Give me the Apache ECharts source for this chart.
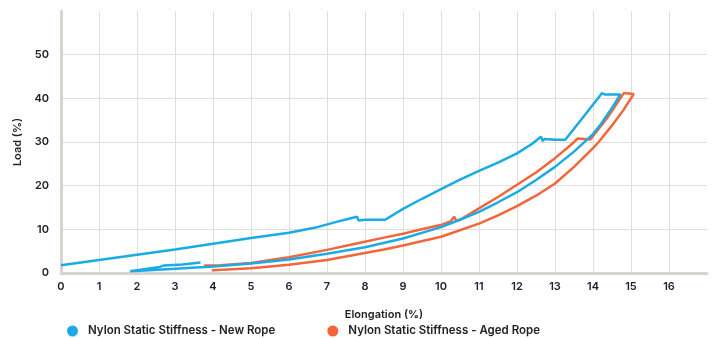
<!DOCTYPE html>
<html>
<head>
<meta charset="utf-8">
<script src="https://cdn.jsdelivr.net/npm/echarts@6/dist/echarts.min.js"></script>
<style>
  html, body { margin: 0; padding: 0; background: #ffffff; }
  #chart { width: 715px; height: 338px; }
</style>
</head>
<body>
<div id="chart"></div>
<script>
// Series names
var seriesNames = ['Nylon Static Stiffness - New Rope', 'Nylon Static Stiffness - Aged Rope'];

// New rope: elongation (%) and load (%)
var newRopeElong = [0, 1, 2, 3, 4, 5, 6, 6.7, 7.2, 7.6, 7.79, 7.83, 7.86, 8.0, 8.3, 8.53,
  9, 9.5, 10, 10.5, 11, 11.5, 12, 12.4, 12.63, 12.68, 12.72, 13.0, 13.27, 13.75, 14.24, 14.3, 14.72,
  14.5, 14.2, 14.0, 13.5, 13.0, 12.5, 12.0, 11.5, 11.0, 10.5, 10.0, 9.0, 8.0, 7.0, 6.0, 5.0, 4.0, 3.0, 2.2, 1.82,
  2.6, 2.7, 2.74, 3.2, 3.67];
var newRopeLoad = [1.8, 3.0, 4.2, 5.4, 6.7, 8.0, 9.2, 10.4, 11.6, 12.5, 12.9, 12.0, 12.4, 12.2, 12.2, 12.2,
  14.7, 17.0, 19.2, 21.4, 23.4, 25.3, 27.4, 29.6, 31.2, 30.2, 30.7, 30.5, 30.5, 35.8, 41.2, 40.9, 40.9,
  37.8, 34.0, 31.8, 27.8, 24.3, 21.3, 18.5, 16.2, 14.0, 12.2, 10.5, 7.9, 5.9, 4.4, 3.1, 2.2, 1.5, 1.0, 0.6, 0.4,
  1.4, 1.7, 1.45, 1.95, 2.4];

// Aged rope: elongation (%) and load (%)
var agedRopeElong = [3.77, 4.2, 5, 6, 7, 7.9, 8.5, 9, 9.63, 9.68, 10.0, 10.25, 10.35, 10.4, 10.5,
  11, 11.5, 12, 12.5, 13, 13.4, 13.6, 13.65, 13.93, 14.4, 14.81, 15.07,
  14.8, 14.5, 14.15, 14.0, 13.5, 13.0, 12.5, 12.0, 11.5, 11.0, 10.0, 9.0, 8.5, 8.0, 7.0, 6.0, 5.0, 4.0, 3.97];
var agedRopeLoad = [1.7, 1.8, 2.3, 3.6, 5.3, 7.0, 8.1, 9.0, 10.3, 10.0, 11.0, 11.8, 12.9, 12.0, 12.2,
  14.8, 17.4, 20.2, 23.0, 26.3, 29.2, 30.8, 30.4, 30.6, 35.8, 41.2, 41.0,
  37.3, 33.8, 30.0, 28.6, 24.3, 20.5, 17.7, 15.3, 13.2, 11.3, 8.3, 6.3, 5.4, 4.6, 3.0, 1.9, 1.1, 0.65, 0.6];

// Axis ticks
var xTickMax = 16;
var yTickMax = 50;

function pairs(xs, ys) {
  var out = [];
  for (var i = 0; i < xs.length; i++) out.push([xs[i], ys[i]]);
  return out;
}

var textColor = '#222222';
var fontFamily = 'Inter, "Noto Sans", sans-serif';

var chart = echarts.init(document.getElementById('chart'), null, { renderer: 'canvas' });
chart.setOption({
  animation: false,
  backgroundColor: '#ffffff',
  color: ['#1AABE6', '#F26639'],
  textStyle: { fontFamily: fontFamily },
  grid: { left: 61, right: 8, top: 11, bottom: 65, containLabel: false },
  legend: {
    left: 62,
    top: 320,
    itemGap: 52,
    itemWidth: 11,
    itemHeight: 12,
    icon: 'circle',
    textStyle: { color: textColor, fontSize: 11.5, fontWeight: 600, fontFamily: fontFamily, padding: [0, 0, 0, 5] },
    data: seriesNames
  },
  xAxis: {
    type: 'value',
    min: 0,
    max: 17,
    interval: 1,
    name: 'Elongation (%)',
    nameLocation: 'middle',
    nameGap: 36,
    nameTextStyle: { color: textColor, fontSize: 11, fontWeight: 600 },
    axisLine: { show: true, lineStyle: { color: '#D9D4CE', width: 3 } },
    axisTick: { show: false },
    axisLabel: {
      color: textColor, fontSize: 11, fontWeight: 600, margin: 8,
      formatter: function (v) { return v <= xTickMax ? String(v) : ''; }
    },
    splitLine: { show: true, showMinLine: false, showMaxLine: false, lineStyle: { color: '#E3DED9', width: 1 } }
  },
  yAxis: {
    type: 'value',
    min: 0,
    max: 60,
    interval: 10,
    name: 'Load (%)',
    nameLocation: 'middle',
    nameGap: 36,
    nameRotate: 90,
    nameTextStyle: { color: textColor, fontSize: 11, fontWeight: 600 },
    axisLine: { show: true, lineStyle: { color: '#D9D4CE', width: 3 } },
    axisTick: { show: false },
    axisLabel: {
      color: textColor, fontSize: 11, fontWeight: 600, margin: 12,
      formatter: function (v) { return v <= yTickMax ? String(v) : ''; }
    },
    splitLine: { show: true, showMinLine: false, showMaxLine: false, lineStyle: { color: '#E3DED9', width: 1 } }
  },
  series: [
    {
      name: seriesNames[1],
      type: 'line',
      showSymbol: false,
      symbol: 'circle',
      lineStyle: { width: 2.5, color: '#F26639' },
      itemStyle: { color: '#F26639' },
      data: pairs(agedRopeElong, agedRopeLoad),
      z: 2
    },
    {
      name: seriesNames[0],
      type: 'line',
      showSymbol: false,
      symbol: 'circle',
      lineStyle: { width: 2.5, color: '#1AABE6' },
      itemStyle: { color: '#1AABE6' },
      data: pairs(newRopeElong, newRopeLoad),
      z: 3
    }
  ]
});
</script>
</body>
</html>
